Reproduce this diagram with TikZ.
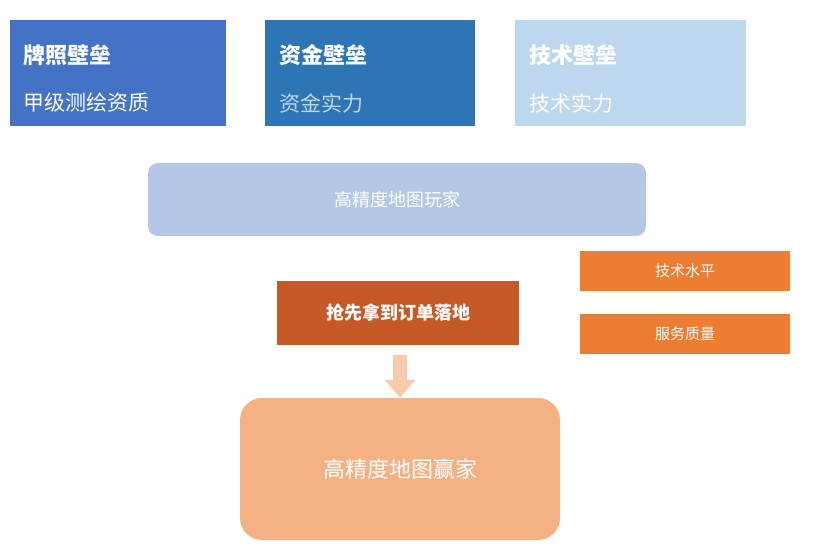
\documentclass[tikz,border=0pt]{standalone}
\usepackage{fontspec}
\setmainfont{Noto Sans CJK SC}
\usetikzlibrary{arrows.meta}
\definecolor{pblue}{HTML}{4472C4}
\definecolor{mblue}{HTML}{2E75B6}
\definecolor{lblue}{HTML}{BDD7EE}
\definecolor{gblue}{HTML}{B4C7E7}
\definecolor{porange}{HTML}{ED7D31}
\definecolor{dorange}{HTML}{C55A28}
\definecolor{lorange}{HTML}{F4B183}
\definecolor{aorange}{HTML}{F8CBAD}
\tikzset{
    wall/.style={minimum width=216pt,minimum height=106pt,inner sep=0pt},
    tag/.style={fill=porange,text=white,minimum width=210pt,minimum height=40pt,font=\fontsize{15}{18}\selectfont},
    head/.style={text=white,anchor=west,font=\fontsize{22}{26}\selectfont\bfseries},
    sub/.style={anchor=west,font=\fontsize{21}{26}\selectfont}
}
\begin{document}
\begin{tikzpicture}[x=1pt,y=-1pt]
            \useasboundingbox (0,0) rectangle (831,554);
            % barriers
            \node[wall,fill=pblue] (licence) at (118,73){};
            \node[wall,fill=mblue,minimum width=210pt] (capital) at (370,73){};
            \node[wall,fill=lblue,minimum width=231pt] (tech) at (630.5,73){};
            \node[head] at (20,55){牌照壁垒};
            \node[sub,text=white] at (20,103){甲级测绘资质};
            \node[head] at (276,55){资金壁垒};
            \node[sub,text=lblue] at (276,103){资金实力};
            \node[head] at (526,55){技术壁垒};
            \node[sub,text=white] at (526,103){技术实力};

            \node[fill=gblue,rounded corners=10pt,minimum width=498pt,minimum height=73pt,
                text=white,font=\fontsize{18}{22}\selectfont] (player) at (397,199.5){高精度地图玩家};
            \node[tag] (level) at (685,270.5){技术水平};
            \node[tag] (service) at (685,334){服务质量};
            \node[fill=dorange,text=white,minimum width=242pt,minimum height=64pt,
                font=\fontsize{18}{22}\selectfont\bfseries] (order) at (398,313){抢先拿到订单落地};
            \node[fill=lorange,rounded corners=22pt,minimum width=320pt,minimum height=142pt,
                text=white,font=\fontsize{22}{26}\selectfont] (winner) at (400,469){高精度地图赢家};

            \draw[aorange,line width=14pt,-{Triangle[length=18pt,width=30pt]},
                shorten <=10pt] (order.south -| winner.north) -- (winner.north);
\end{tikzpicture}
\end{document}
